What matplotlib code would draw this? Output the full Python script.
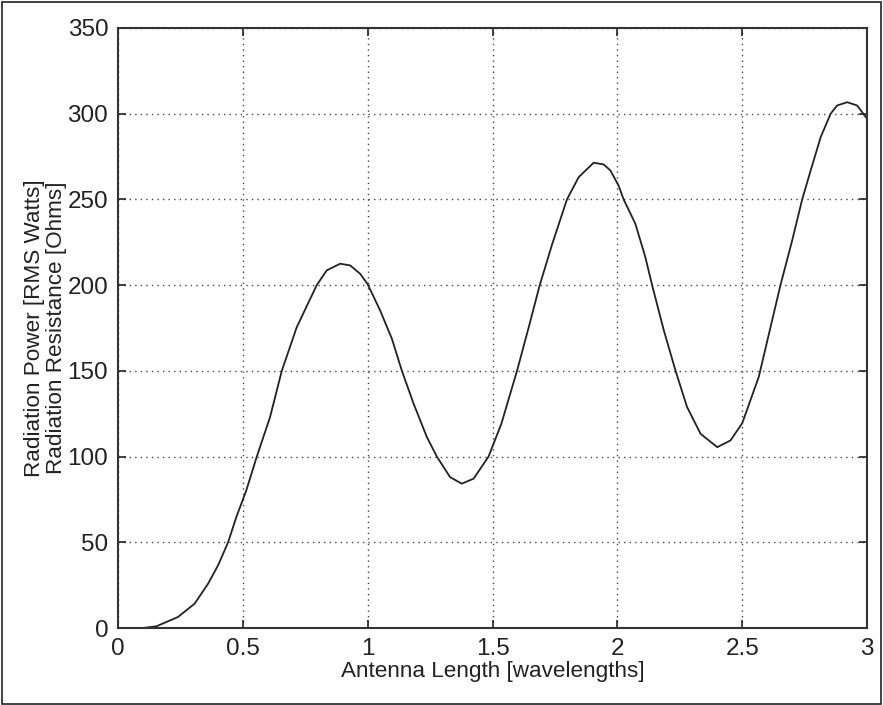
import matplotlib.pyplot as plt
from matplotlib.patches import Rectangle

plt.rcParams['font.family'] = ['Liberation Sans', 'DejaVu Sans']

# values
length = [0.10, 0.154, 0.24, 0.307, 0.361, 0.401, 0.441, 0.474, 0.514, 0.556,
          0.609, 0.656, 0.716, 0.796, 0.836, 0.890, 0.930, 0.970, 1.000, 1.050,
          1.097, 1.137, 1.184, 1.237, 1.277, 1.330, 1.377, 1.424, 1.484, 1.535,
          1.598, 1.645, 1.689, 1.739, 1.798, 1.845, 1.905, 1.945, 1.972, 2.005,
          2.025, 2.072, 2.112, 2.139, 2.186, 2.233, 2.279, 2.333, 2.400, 2.453,
          2.500, 2.566, 2.653, 2.700, 2.740, 2.774, 2.814, 2.854, 2.880, 2.920,
          2.960, 3.000]
resistance = [0.0, 1.0, 6.4, 14.2, 25.9, 36.6, 50.0, 64.7, 80.3, 100.0,
              123.0, 150.0, 175.5, 200.0, 208.6, 212.5, 211.5, 206.6, 200.5, 185.2,
              168.7, 150.0, 130.8, 111.4, 100.0, 88.0, 84.2, 87.1, 100.0, 119.0,
              150.0, 175.5, 200.0, 224.0, 250.0, 263.0, 271.4, 270.4, 266.9, 258.0,
              250.0, 235.8, 216.3, 200.0, 173.6, 150.0, 128.9, 113.3, 105.5, 109.4,
              119.5, 146.4, 200.0, 226.1, 250.0, 266.9, 286.3, 300.0, 304.8, 306.7,
              304.8, 297.0]

xticks = [0, 0.5, 1, 1.5, 2, 2.5, 3]
xticklabels = ['0', '0.5', '1', '1.5', '2', '2.5', '3']
yticks = [0, 50, 100, 150, 200, 250, 300, 350]

fig = plt.figure(figsize=(8.83, 7.05), dpi=100)
ax = fig.add_axes([0.1336, 0.1092, 0.8484, 0.8511])

ax.plot(length, resistance, color='#222222', linewidth=1.3)

ax.set_xlim(0, 3)
ax.set_ylim(0, 350)
ax.set_xticks(xticks)
ax.set_xticklabels(xticklabels)
ax.set_yticks(yticks)
ax.tick_params(direction='in', length=6, width=1.2, top=True, right=True,
               labelsize=17.5, colors='#222222', pad=7)
for side in ax.spines.values():
    side.set_linewidth(1.5)
    side.set_color('#333333')

ax.grid(True, color='#444444', linestyle=(0, (1, 3)), linewidth=1.0)

ax.set_xlabel('Antenna Length [wavelengths]', fontsize=16.2, color='#222222', labelpad=1)
ax.set_ylabel('Radiation Power [RMS Watts]\nRadiation Resistance [Ohms]',
              fontsize=16.2, color='#222222', linespacing=1.12, labelpad=0)

# thin frame around the whole picture
fig.patches.append(Rectangle((0.002, 0.002), 0.996, 0.995, transform=fig.transFigure,
                             fill=False, edgecolor='#222222', linewidth=1.2))

plt.savefig('out.png', dpi=100)
